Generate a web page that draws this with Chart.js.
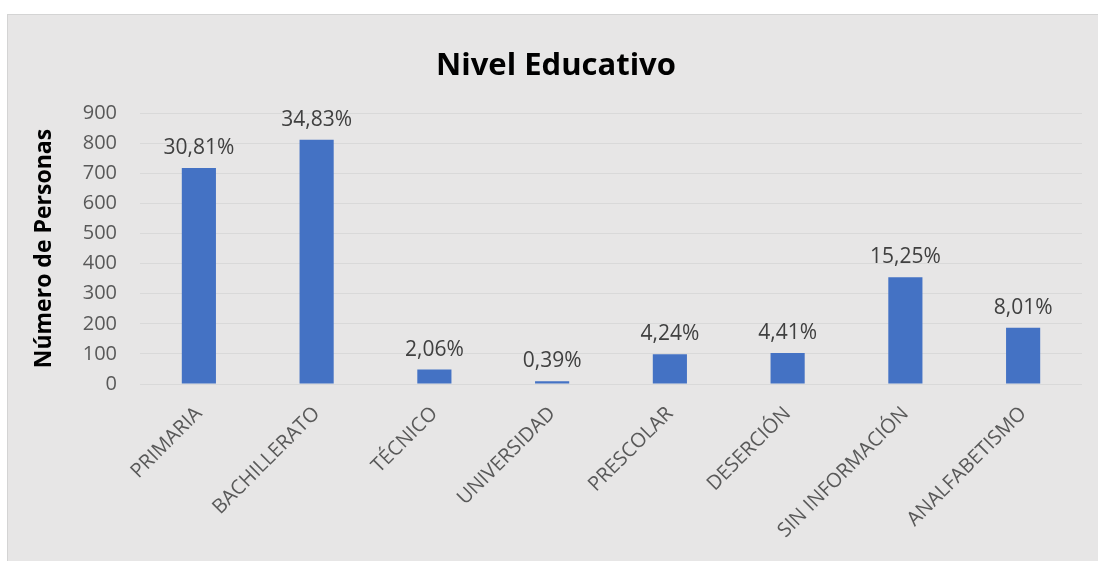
<!DOCTYPE html>
<html>
<head>
<meta charset="utf-8">
<script src="https://cdn.jsdelivr.net/npm/chart.js@4/dist/chart.umd.min.js"></script>
<style>
  html, body { margin: 0; padding: 0; background: #ffffff; }
  #wrap { position: relative; width: 1098px; height: 561px; }
</style>
</head>
<body>
<div id="wrap"><canvas id="NivelChart" width="1098" height="561"></canvas></div>
<script>
const categorias = ['PRIMARIA', 'BACHILLERATO', 'TÉCNICO', 'UNIVERSIDAD', 'PRESCOLAR', 'DESERCIÓN', 'SIN INFORMACIÓN', 'ANALFABETISMO'];
const personas = [718, 812, 48, 9, 99, 103, 355, 187];
const porcentajes = ['30,81%', '34,83%', '2,06%', '0,39%', '4,24%', '4,41%', '15,25%', '8,01%'];

// grey chart background, like the spreadsheet chart area
const fondo = {
    id: 'fondo',
    beforeDraw(chart) {
        const ctx = chart.ctx;
        ctx.save();
        ctx.fillStyle = '#E7E6E6';
        ctx.fillRect(7, 14, chart.width - 7, chart.height - 14);
        ctx.fillStyle = '#D4D4D4';
        ctx.fillRect(7, 14, chart.width - 7, 1);
        ctx.fillRect(7, 14, 1, chart.height - 14);
        ctx.restore();
    }
};

// percentage labels on top of each bar
const etiquetas = {
    id: 'etiquetas',
    afterDatasetsDraw(chart) {
        const ctx = chart.ctx;
        const meta = chart.getDatasetMeta(0);
        ctx.save();
        ctx.font = '21px "Open Sans"';
        ctx.fillStyle = '#404040';
        ctx.textAlign = 'center';
        ctx.textBaseline = 'alphabetic';
        meta.data.forEach((bar, i) => {
            ctx.fillText(porcentajes[i], bar.x, bar.y - 14);
        });
        ctx.restore();
    }
};

const ctx = document.getElementById('NivelChart').getContext('2d');
const chart = new Chart(ctx, {
    type: 'bar',
    data: {
        labels: categorias,
        datasets: [{
            label: 'Número de Personas',
            data: personas,
            backgroundColor: '#4472C4',
            barPercentage: 0.29,
            categoryPercentage: 1.0
        }]
    },
    options: {
        responsive: false,
        animation: false,
        layout: { padding: { left: 30, right: 16, top: 48, bottom: 0 } },
        plugins: {
            legend: { display: false },
            tooltip: { enabled: false },
            title: {
                display: true,
                text: 'Nivel Educativo',
                color: '#000000',
                font: { family: 'Open Sans', size: 31, weight: 'bold', lineHeight: 1.2 },
                padding: { top: 0, bottom: 28 }
            }
        },
        scales: {
            x: {
                grid: { display: false, drawTicks: false },
                border: { display: false },
                ticks: {
                    color: '#595959',
                    font: { family: 'Open Sans', size: 20 },
                    minRotation: 45,
                    maxRotation: 45,
                    padding: 18,
                    autoSkip: false
                },
                afterFit(scale) { scale.height = 177; }
            },
            y: {
                min: 0,
                max: 900,
                grid: { color: '#D9D9D9', lineWidth: 1, drawTicks: false },
                border: { display: false },
                ticks: {
                    stepSize: 100,
                    color: '#595959',
                    font: { family: 'Open Sans', size: 20 },
                    padding: 23
                },
                title: {
                    display: true,
                    text: 'Número de Personas',
                    color: '#000000',
                    font: { family: 'Open Sans', size: 23, weight: 'bold', lineHeight: 1.2 },
                    padding: { top: 1, bottom: 0 }
                },
                afterFit(scale) { scale.width = 110; }
            }
        }
    },
    plugins: [fondo, etiquetas]
});
</script>
</body>
</html>
